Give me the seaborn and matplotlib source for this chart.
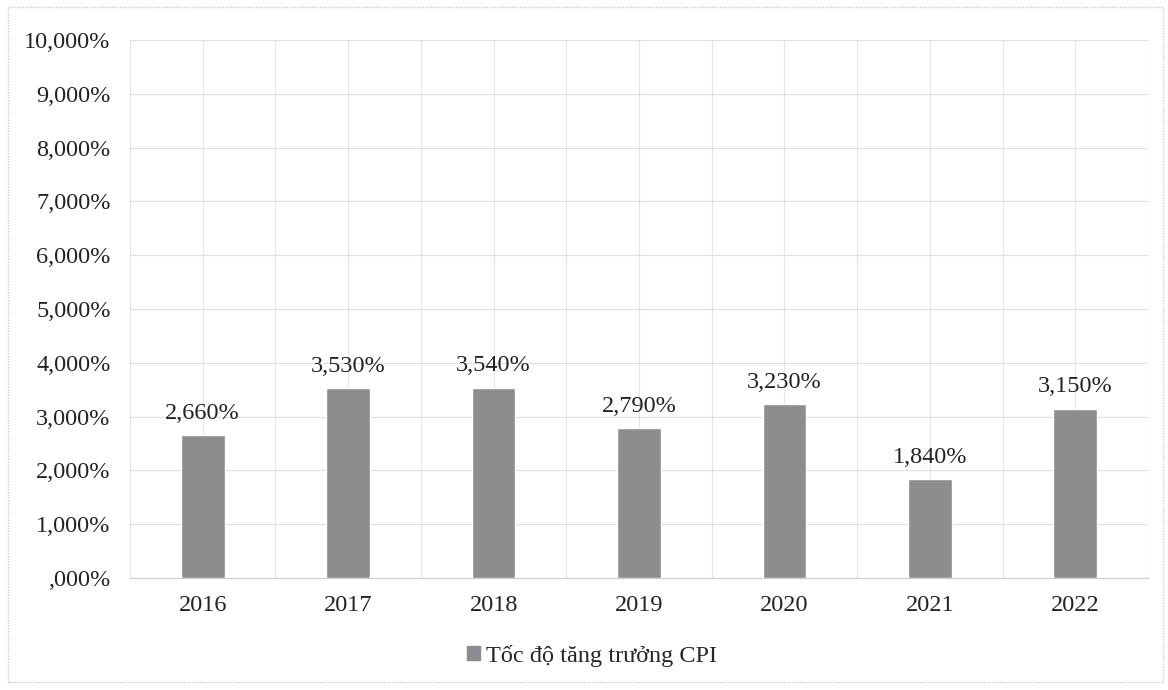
import matplotlib
matplotlib.use('Agg')
import matplotlib.pyplot as plt
import matplotlib.patches as mpatches
from matplotlib.ticker import FuncFormatter, MultipleLocator
import seaborn as sns
import pandas as pd

years = ['2016', '2017', '2018', '2019', '2020', '2021', '2022']
cpi = [2.66, 3.53, 3.54, 2.79, 3.23, 1.84, 3.15]
series_name = 'Tốc độ tăng trưởng CPI'

df = pd.DataFrame({'Năm': years, 'CPI': cpi})

sns.set_style('white')
plt.rcParams['font.family'] = ['Liberation Serif', 'DejaVu Serif']

bar_color = '#8c8c90'

def vn_pct(v, pos=None):
    s = f'{v:.3f}'.replace('.', ',')
    if s.startswith('0'):
        s = s[1:]
    return s + '%'

fig = plt.figure(figsize=(11.68, 6.9), dpi=100)
ax = fig.add_axes([130 / 1168, 1 - 578 / 690, 1018 / 1168, 538 / 690])

sns.barplot(data=df, x='Năm', y='CPI', color=bar_color, width=0.3, ax=ax, zorder=3)

ax.set_ylim(0, 10)
ax.set_xlim(-0.5, 6.5)
ax.yaxis.set_major_locator(MultipleLocator(1))
ax.yaxis.set_major_formatter(FuncFormatter(vn_pct))
ax.set_xticks(range(len(years)), minor=False)
ax.set_xticks([i - 0.5 for i in range(len(years) + 1)], minor=True)
ax.grid(True, axis='y', color='#d0d0d0', linewidth=0.9, linestyle=(0, (1, 0.6)), zorder=0)
ax.grid(True, axis='x', which='both', color='#e6e6e6', linewidth=0.8, zorder=0)
ax.set_xlabel('')
ax.set_ylabel('')
ax.tick_params(axis='both', which='both', length=0, labelsize=17.5, colors='#222222')
ax.tick_params(axis='x', pad=12)
ax.tick_params(axis='y', pad=14)
for sp in ['top', 'right', 'left']:
    ax.spines[sp].set_visible(False)
ax.spines['bottom'].set_color('#cfcfcf')
ax.spines['bottom'].set_linewidth(0.9)

for i, v in enumerate(cpi):
    ax.annotate(vn_pct(v), (i, v), xytext=(0, 8), textcoords='offset points',
                ha='center', va='bottom', fontsize=17.5, color='#222222')

handle = mpatches.Patch(color=bar_color, label=series_name)
fig.legend(handles=[handle], loc='center', bbox_to_anchor=(592 / 1168, 1 - 656 / 690),
           frameon=False, fontsize=17.5, handlelength=0.5, handleheight=0.5, handletextpad=0.25)

border = mpatches.Rectangle((8 / 1168, 8 / 690), 1155 / 1168, 675 / 690, transform=fig.transFigure,
                            fill=False, edgecolor='#cccccc', linewidth=1, linestyle=(0, (1, 1)))
fig.patches.append(border)

fig.savefig('out.png', dpi=100)
